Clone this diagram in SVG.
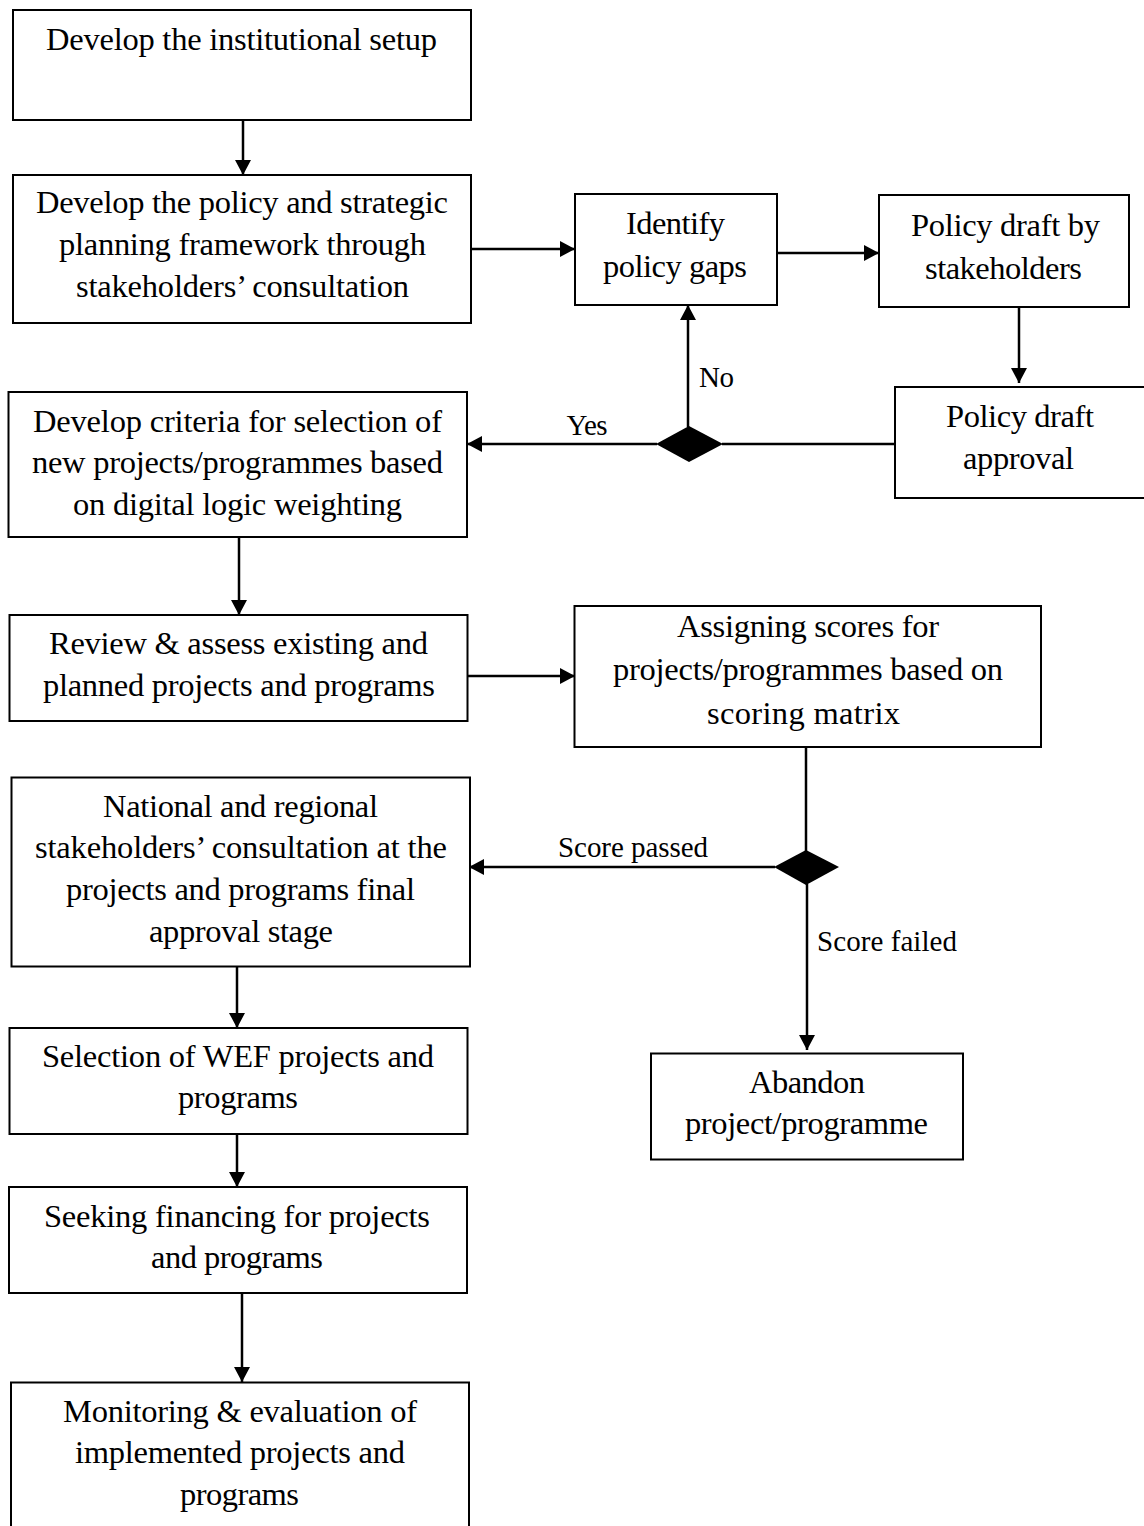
<svg xmlns="http://www.w3.org/2000/svg" width="1144" height="1526" viewBox="0 0 1144 1526">
<defs>
<marker id="ah" markerUnits="userSpaceOnUse" markerWidth="16" markerHeight="16" viewBox="0 0 16 16" refX="15" refY="8" orient="auto">
<path d="M0,0 L15,8 L0,16 Z" fill="#000"/>
</marker>
</defs>
<style>
.box{fill:#fff;stroke:#000;stroke-width:2}
.t{font-family:"Liberation Serif","Times New Roman",serif;font-size:32.5px;fill:#000;text-anchor:middle}
.lbl{font-family:"Liberation Serif","Times New Roman",serif;font-size:29px;fill:#000}
.c{fill:none;stroke:#000;stroke-width:2.5}
.a{marker-end:url(#ah)}
.dia{fill:#000;stroke:none}
</style>
<rect width="1144" height="1526" fill="#fff"/>
<g id="connectors">
<line class="c a" x1="243" y1="120" x2="243" y2="175"/>
<line class="c a" x1="471" y1="249" x2="575" y2="249"/>
<line class="c a" x1="777" y1="253" x2="879" y2="253"/>
<line class="c a" x1="1019" y1="307" x2="1019" y2="383"/>
<line class="c" x1="895" y1="444" x2="722" y2="444"/>
<line class="c a" x1="657" y1="444" x2="467" y2="444"/>
<line class="c a" x1="688" y1="427" x2="688" y2="305"/>
<line class="c a" x1="239" y1="537" x2="239" y2="615"/>
<line class="c a" x1="467" y1="676" x2="575" y2="676"/>
<line class="c" x1="806" y1="747" x2="806" y2="851"/>
<line class="c a" x1="775" y1="867" x2="469" y2="867"/>
<line class="c a" x1="807" y1="884" x2="807" y2="1050"/>
<line class="c a" x1="237" y1="967" x2="237" y2="1028"/>
<line class="c a" x1="237" y1="1134" x2="237" y2="1187"/>
<line class="c a" x1="242" y1="1293" x2="242" y2="1382"/>
<polygon id="decision1" class="dia" points="689,426 723,444 689,462 656,444"/>
<polygon id="decision2" class="dia" points="806,850 839,867 806,885 774,867"/>
<text class="lbl" x="587" y="435" text-anchor="middle" textLength="41">Yes</text>
<text class="lbl" x="699" y="387" textLength="35">No</text>
<text class="lbl" x="633" y="857" text-anchor="middle" textLength="150">Score passed</text>
<text class="lbl" x="817" y="951" textLength="140">Score failed</text>
</g>
<g id="n1">
<rect class="box" x="13" y="10" width="458" height="110"/>
<text class="t" x="241.5" y="50" textLength="391">Develop the institutional setup</text>
</g>
<g id="n2">
<rect class="box" x="13" y="175" width="458" height="148"/>
<text class="t" x="242" y="213" textLength="412">Develop the policy and strategic</text>
<text class="t" x="242.5" y="255" textLength="367">planning framework through</text>
<text class="t" x="242.5" y="297" textLength="333">stakeholders’ consultation</text>
</g>
<g id="n3">
<rect class="box" x="575" y="194" width="202" height="111"/>
<text class="t" x="675.5" y="234" textLength="99">Identify</text>
<text class="t" x="675" y="277" textLength="144">policy gaps</text>
</g>
<g id="n4">
<rect class="box" x="879" y="195" width="250" height="112"/>
<text class="t" x="1005.5" y="236" textLength="189">Policy draft by</text>
<text class="t" x="1003.5" y="279" textLength="157">stakeholders</text>
</g>
<g id="n5">
<rect class="box" x="895" y="387" width="270" height="111"/>
<text class="t" x="1020" y="427" textLength="148">Policy draft</text>
<text class="t" x="1018.5" y="469" textLength="111">approval</text>
</g>
<g id="n6">
<rect class="box" x="8.5" y="392" width="458.5" height="145"/>
<text class="t" x="237.5" y="432" textLength="409">Develop criteria for selection of</text>
<text class="t" x="237.5" y="473" textLength="411">new projects/programmes based</text>
<text class="t" x="237.5" y="515" textLength="329">on digital logic weighting</text>
</g>
<g id="n7">
<rect class="box" x="9.5" y="615" width="458" height="106"/>
<text class="t" x="238.5" y="654" textLength="379">Review &amp; assess existing and</text>
<text class="t" x="239" y="696" textLength="392">planned projects and programs</text>
</g>
<g id="n8">
<rect class="box" x="574.5" y="606" width="466.5" height="141"/>
<text class="t" x="808" y="637" textLength="262">Assigning scores for</text>
<text class="t" x="808" y="680" textLength="390">projects/programmes based on</text>
<text class="t" x="803.5" y="724" textLength="193">scoring matrix</text>
</g>
<g id="n9">
<rect class="box" x="11.5" y="777.5" width="458.5" height="189"/>
<text class="t" x="240.5" y="817" textLength="275">National and regional</text>
<text class="t" x="241" y="858" textLength="412">stakeholders’ consultation at the</text>
<text class="t" x="240.5" y="900" textLength="349">projects and programs final</text>
<text class="t" x="241" y="942" textLength="184">approval stage</text>
</g>
<g id="n10">
<rect class="box" x="651" y="1053.5" width="312" height="106"/>
<text class="t" x="807" y="1093" textLength="116">Abandon</text>
<text class="t" x="806.5" y="1134" textLength="243">project/programme</text>
</g>
<g id="n11">
<rect class="box" x="9.5" y="1028" width="458" height="106"/>
<text class="t" x="238" y="1067" textLength="392">Selection of WEF projects and</text>
<text class="t" x="238" y="1108" textLength="120">programs</text>
</g>
<g id="n12">
<rect class="box" x="9" y="1187" width="458" height="106"/>
<text class="t" x="237" y="1227" textLength="386">Seeking financing for projects</text>
<text class="t" x="237" y="1268" textLength="172">and programs</text>
</g>
<g id="n13">
<rect class="box" x="11" y="1382.5" width="458" height="160"/>
<text class="t" x="240" y="1422" textLength="354">Monitoring &amp; evaluation of</text>
<text class="t" x="240" y="1463" textLength="330">implemented projects and</text>
<text class="t" x="239.5" y="1505" textLength="119">programs</text>
</g>
</svg>
